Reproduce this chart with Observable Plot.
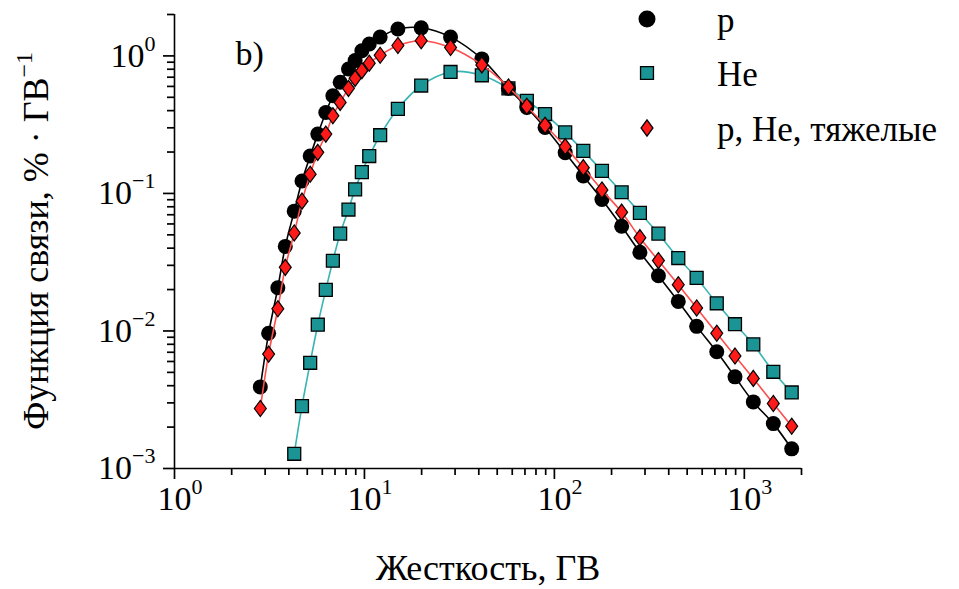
<!DOCTYPE html>
<html><head><meta charset="utf-8">
<script src="https://cdn.jsdelivr.net/npm/d3@7"></script>
<script src="https://cdn.jsdelivr.net/npm/@observablehq/plot@0.6"></script>
<style>
body{margin:0;background:#fff;}
#wrap{position:relative;width:959px;height:589px;}
</style></head><body><div id="wrap"></div>
<script>
// Rigidity bins (GV)
const rigidity = [2.83,3.13,3.50,3.83,4.27,4.69,5.18,5.68,6.26,6.82,7.45,8.24,8.93,9.69,10.6,12.1,15.0,19.9,28.4,41.5,57.3,71.6,89.3,114,142,178,226,282,353,449,561,716,893,1115,1421,1776];
// p
const pValues = [0.00392,0.00962,0.0206,0.0412,0.0743,0.123,0.187,0.270,0.388,0.513,0.643,0.804,0.924,1.09,1.22,1.37,1.57,1.60,1.37,0.951,0.581,0.422,0.302,0.198,0.134,0.0904,0.0577,0.0373,0.0252,0.0164,0.0108,0.00706,0.00464,0.00305,0.00212,0.00139];
// He
const heValues = [null,null,null,null,0.00128,0.00284,0.00587,0.0111,0.0199,0.0324,0.0510,0.0764,0.107,0.143,0.187,0.265,0.412,0.609,0.764,0.723,0.581,0.472,0.378,0.278,0.204,0.146,0.102,0.0723,0.0510,0.0339,0.0243,0.0159,0.0112,0.00799,0.00505,0.00357];
// p, He, heavy
const heavyValues = [0.00273,0.00679,0.0145,0.0290,0.0516,0.0879,0.138,0.199,0.270,0.367,0.459,0.581,0.687,0.781,0.885,1.01,1.19,1.29,1.15,0.860,0.594,0.430,0.313,0.219,0.154,0.106,0.0731,0.0477,0.0325,0.0217,0.0147,0.00962,0.00657,0.00452,0.00297,0.00203];

const seriesNames = ["p","He","p, He, тяжелые"];
const xMajorTicks = [1,10,100,1000];
const xMajorLabels = ["10^0","10^1","10^2","10^3"];
const xMinorTicks = [2,3,4,5,6,7,8,9,20,30,40,50,60,70,80,90,200,300,400,500,600,700,800,900,2000];
const yMajorTicks = [0.001,0.01,0.1,1];
const yMajorLabels = ["10^−3","10^−2","10^−1","10^0"];
const yMinorTicks = [0.002,0.003,0.004,0.005,0.006,0.007,0.008,0.009,0.02,0.03,0.04,0.05,0.06,0.07,0.08,0.09,0.2,0.3,0.4,0.5,0.6,0.7,0.8,0.9,2];
const xTitle = "Жесткость, ГВ";
const yTitle = ["Функция связи, % · ГВ", "−1"];
const panelLabel = "b)";

const colP = "#000000", colHe = "#1a9494", colHeLine = "#3ab3b3", colHeavy = "#ff1a1a", colHeavyLine = "#ff4d4d";

const rows = rigidity.map((r,i)=>({r, p:pValues[i], he:heValues[i], heavy:heavyValues[i]}));
const heRows = rows.filter(d => d.he != null);

const diamondSym = {draw(ctx, size){ const r = Math.sqrt(size/Math.PI); const h = r*1.15, w = r*0.85; ctx.moveTo(0,-h); ctx.lineTo(w,0); ctx.lineTo(0,h); ctx.lineTo(-w,0); ctx.closePath(); }};

const xMap = new Map(xMajorTicks.map((t,i)=>[t,xMajorLabels[i]]));
const yMap = new Map(yMajorTicks.map((t,i)=>[t,yMajorLabels[i]]));
const font = "Liberation Serif, Times New Roman, serif";

const W = 959, H = 589, mL = 174, mR = 158, mT = 14, mB = 121;
const frameW = W - mL - mR, frameH = H - mT - mB;
const tickMark = (len) => ({stroke:"#000", strokeWidth:1.7});

const plot = Plot.plot({
  width:W, height:H,
  marginLeft:mL, marginRight:mR, marginTop:mT, marginBottom:mB,
  style:{fontFamily:font, fontSize:"34px", color:"#000", background:"#fff", overflow:"visible"},
  x:{type:"log", domain:[1,2000]},
  y:{type:"log", domain:[0.001,2]},
  marks:[
    Plot.axisX({ticks:xMajorTicks, tickSize:0, tickPadding:17, tickFormat:d=>xMap.get(d), label:null}),
    Plot.axisY({ticks:yMajorTicks, tickSize:0, tickPadding:19, tickFormat:d=>yMap.get(d), label:null}),
    // outward tick marks: rules shortened with insets, then shifted outside the frame
    Plot.ruleX(xMinorTicks, {x:d=>d, insetTop:frameH-7, dy:7, stroke:"#000", strokeWidth:1.7}),
    Plot.ruleX(xMajorTicks, {x:d=>d, insetTop:frameH-11, dy:11, stroke:"#000", strokeWidth:1.7}),
    Plot.ruleY(yMinorTicks, {y:d=>d, insetRight:frameW-7, dx:-7, stroke:"#000", strokeWidth:1.7}),
    Plot.ruleY(yMajorTicks, {y:d=>d, insetRight:frameW-11, dx:-11, stroke:"#000", strokeWidth:1.7}),
    Plot.ruleY([0.001], {stroke:"#000", strokeWidth:1.6}),
    Plot.ruleX([1], {stroke:"#000", strokeWidth:1.6}),
    Plot.text([panelLabel], {frameAnchor:"top-left", dx:61, dy:26, text:d=>d, fontSize:34, textAnchor:"start"}),
    Plot.line(heRows, {x:"r", y:"he", stroke:colHeLine, strokeWidth:1.6, curve:"catmull-rom"}),
    Plot.dot(heRows, {x:"r", y:"he", symbol:"square", r:7.3, fill:colHe, stroke:"#000", strokeWidth:1.3}),
    Plot.line(rows, {x:"r", y:"p", stroke:colP, strokeWidth:1.6, curve:"catmull-rom"}),
    Plot.dot(rows, {x:"r", y:"p", symbol:"circle", r:7.5, fill:colP}),
    Plot.line(rows, {x:"r", y:"heavy", stroke:colHeavyLine, strokeWidth:1.6, curve:"catmull-rom"}),
    Plot.dot(rows, {x:"r", y:"heavy", symbol:diamondSym, r:7, fill:colHeavy, stroke:"#000", strokeWidth:1.2})
  ]
});
document.getElementById("wrap").appendChild(plot);

const svg = d3.select(plot);
const NS = "http://www.w3.org/2000/svg";
function supify(t, anchorBase){
  const parts = t.textContent.split("^");
  if (parts.length < 2) return;
  t.textContent = "";
  const b = document.createElementNS(NS,"tspan"); b.textContent = parts[0]; t.appendChild(b);
  const s = document.createElementNS(NS,"tspan"); s.textContent = parts[1];
  s.setAttribute("font-size","22px"); s.setAttribute("dy","-16"); t.appendChild(s);
  if (anchorBase) {
    t.setAttribute("text-anchor","start");
    const w = b.getComputedTextLength();
    t.setAttribute("dx", (-w/2).toFixed(1));
  }
}
plot.querySelectorAll('g[aria-label="x-axis tick label"] text').forEach(t=>supify(t,true));
plot.querySelectorAll('g[aria-label="y-axis tick label"] text').forEach(t=>supify(t,false));

// axis titles
svg.append("text").attr("x",488).attr("y",580).attr("text-anchor","middle")
  .attr("font-family",font).attr("font-size",36).attr("fill","#000").text(xTitle);
const yt = svg.append("text").attr("transform","translate(48,241) rotate(-90)").attr("text-anchor","middle")
  .attr("font-family",font).attr("font-size",36).attr("fill","#000");
yt.append("tspan").text(yTitle[0]);
yt.append("tspan").attr("font-size",24).attr("dy",-16).text(yTitle[1]);

// legend
const lg = svg.append("g").attr("font-family",font).attr("font-size",35).attr("fill","#000").attr("text-anchor","start");
const legendY = [19,73,128];
const legendSym = [d3.symbolCircle, d3.symbolSquare, diamondSym];
const legendR = [8.5, 7.3, 7];
const legendFill = [colP, colHe, colHeavy];
const legendStroke = ["none","#000","#000"];
seriesNames.forEach((name,i)=>{
  lg.append("path").attr("transform",`translate(647,${legendY[i]})`)
    .attr("d", d3.symbol(legendSym[i], Math.PI*legendR[i]*legendR[i])())
    .attr("fill",legendFill[i]).attr("stroke",legendStroke[i]).attr("stroke-width",1.3);
  lg.append("text").attr("x",717).attr("y",legendY[i]+13).attr("text-anchor","start").text(name);
});
</script></body></html>
